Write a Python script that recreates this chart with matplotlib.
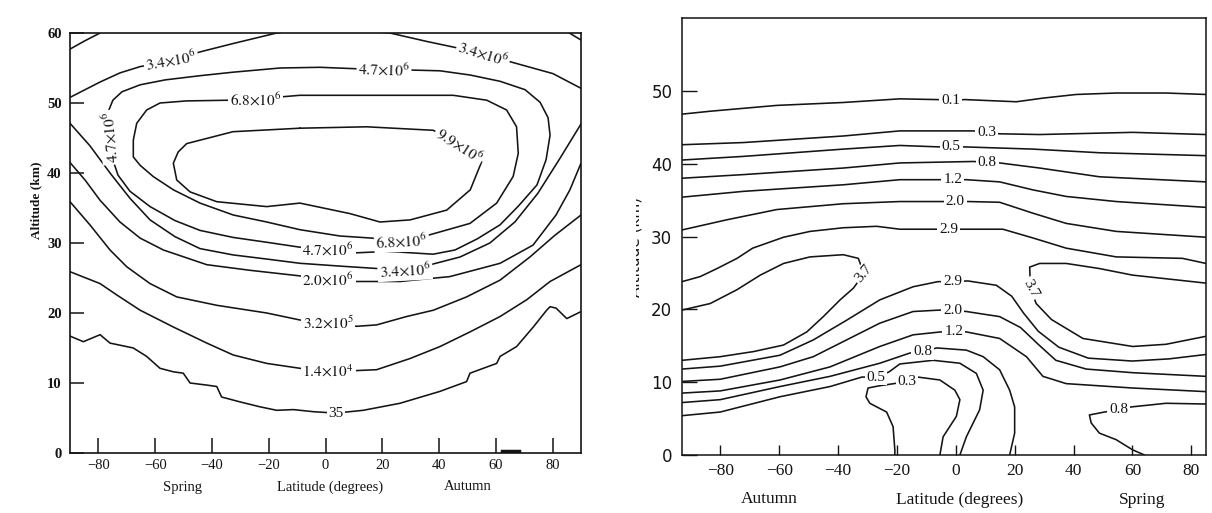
import matplotlib
matplotlib.use('Agg')
import matplotlib.pyplot as plt
from matplotlib.transforms import Bbox, TransformedBbox

plt.rcParams['font.family'] = ['Liberation Serif', 'DejaVu Serif']
plt.rcParams['mathtext.fontset'] = 'stix'

W, H = 1212, 513

# ---------------- left panel: contour lines (latitude, altitude km) ----------------
l_tl_lat = [-90, -84.7, -79.4]
l_tl_alt = [57.7, 58.9, 60.0]
l_tr_lat = [85.9, 90]
l_tr_alt = [60.0, 59.0]

l_34top_lat = [-90, -79.4, -72.4, -65.3, -54.4, -44.2, -32.5, -17.2, -9.0, 5.0, 22.7, 35.6, 44.9, 55.6, 65.0, 80.1, 90]
l_34top_alt = [50.8, 53.0, 54.3, 55.2, 56.0, 57.3, 58.5, 60.0, 60.4, 60.5, 60.0, 58.8, 58.0, 57.1, 55.9, 54.2, 52.1]

l_47_lat = [20.6, 30.8, 40.3, 50.9, 61.5, 70.3, 75.6, 78.4, 79.1, 77.7, 74.5, 68.0, 61.5, 53.5, 45.6, 37.9, 26.2,
            16.4, 11.1, 0.9, -9.0, -20.6, -32.6, -44.2, -53.0, -61.8, -68.9, -73.1, -74.9, -75.6, -76.6, -74.9,
            -71.7, -65.3, -56.5, -44.2, -32.6, -16.0, -1.9, 10.4, 20.6]
l_47_alt = [54.8, 54.7, 54.6, 54.0, 53.1, 51.9, 50.1, 47.9, 45.4, 41.9, 38.3, 35.3, 32.6, 30.6, 29.0, 28.4, 28.7,
            28.7, 28.6, 29.0, 29.4, 30.1, 30.8, 31.8, 33.2, 35.2, 37.4, 39.7, 41.9, 45.1, 48.7, 50.4,
            51.6, 52.6, 53.3, 53.9, 54.4, 55.0, 55.1, 54.9, 54.8]

l_68_lat = [-24.5, -33.6, -48.9, -58.3, -63.0, -66.5, -67.7, -67.7, -65.3, -60.7, -53.6, -44.2, -32.5, -20.7, -9.0,
            5.1, 16.3, 26.8, 36.1, 50.9, 60.3, 66.1, 67.9, 67.3, 63.8, 56.8, 45.0, 33.3, 14.5, -9.0, -14.9, -24.5]
l_68_alt = [50.4, 50.4, 50.3, 50.0, 49.0, 47.1, 44.7, 42.3, 41.1, 39.5, 37.6, 35.7, 34.0, 33.0, 31.9,
            31.0, 30.7, 30.2, 31.1, 32.8, 35.7, 39.5, 42.8, 46.6, 49.0, 50.4, 51.1, 51.1, 51.1, 51.1, 50.9, 50.4]

l_99_lat = [-9.0, -32.6, -48.9, -51.9, -53.6, -52.4, -47.7, -38.3, -20.7, -9.0, 8.6, 19.2, 29.8, 42.7, 51.0, 55.0,
            47.0, 38.0, 14.5, -9.0]
l_99_alt = [46.4, 45.9, 44.2, 43.0, 41.4, 39.0, 37.3, 35.9, 35.2, 35.7, 34.2, 33.0, 33.3, 34.7, 37.6, 41.6,
            43.9, 46.1, 46.6, 46.4]

l_34low_lat = [-90, -83.0, -75.9, -68.9, -61.8, -53.0, -44.2, -32.6, -20.6, -9.0, 5.1, 16.4, 28.0, 37.9, 47.4,
               57.9, 66.7, 74.8, 82.6, 90]
l_34low_alt = [47.1, 43.9, 40.0, 36.4, 33.3, 30.9, 29.2, 28.3, 27.7, 27.1, 26.7, 26.4, 26.1, 27.0, 28.0,
               30.0, 33.0, 37.1, 42.1, 47.0]

l_20_lat = [-90, -84.7, -79.4, -72.4, -65.3, -57.1, -41.8, -26.6, -9.0, 0.9, 11.0, 26.2, 43.8, 61.5, 73.1, 81.2,
            86.1, 90]
l_20_alt = [41.5, 39.0, 36.1, 33.0, 30.7, 29.0, 26.9, 26.1, 25.3, 24.7, 24.5, 24.5, 25.2, 27.1, 29.7, 34.0,
            37.6, 41.4]

l_32e5_lat = [-90, -83.0, -75.9, -70.0, -61.8, -52.4, -38.3, -20.7, -9.0, 0.9, 11.0, 18.0, 28.6, 38.0, 49.7,
              61.5, 72.0, 80.8, 90]
l_32e5_alt = [35.9, 32.6, 29.0, 26.6, 24.2, 22.3, 21.1, 20.0, 19.0, 18.6, 18.1, 18.3, 19.5, 20.4, 22.3,
              24.7, 28.0, 31.1, 34.0]

l_14e4_lat = [-90, -79.4, -73.6, -65.3, -53.6, -41.8, -32.5, -20.7, -9.0, 0.9, 18.0, 29.8, 40.3, 50.9, 61.5,
              70.9, 79.1, 90]
l_14e4_alt = [25.9, 24.2, 22.6, 20.4, 18.0, 15.7, 14.0, 12.8, 12.1, 11.6, 11.9, 13.5, 15.2, 17.3, 19.5,
              21.9, 24.5, 26.9]

l_35_lat = [-90, -85.3, -79.4, -75.9, -67.7, -63.0, -58.3, -53.6, -50.1, -47.7, -41.8, -38.3, -36.6, -30.1,
            -23.1, -17.2, -11.3, -4.3, 3.7, 13.3, 26.2, 40.3, 49.7, 50.9, 60.3, 61.5, 67.3, 73.2, 77.9, 79.1,
            81.2, 85.0, 90]
l_35_alt = [16.7, 15.9, 16.9, 15.7, 15.0, 13.8, 12.1, 11.6, 11.4, 10.0, 9.7, 9.5, 8.0, 7.3,
            6.6, 6.1, 6.2, 5.9, 5.7, 6.1, 7.1, 8.8, 10.2, 11.4, 12.8, 13.8, 15.2, 18.0, 20.4, 20.9,
            20.7, 19.2, 20.2]

l_frag_lat = [62, 68]
l_frag_alt = [0.25, 0.25]

left_lines = [(l_tl_lat, l_tl_alt), (l_tr_lat, l_tr_alt), (l_34top_lat, l_34top_alt), (l_47_lat, l_47_alt),
              (l_68_lat, l_68_alt), (l_99_lat, l_99_alt), (l_34low_lat, l_34low_alt), (l_20_lat, l_20_alt),
              (l_32e5_lat, l_32e5_alt), (l_14e4_lat, l_14e4_alt), (l_35_lat, l_35_alt)]

# label text, lat, alt, rotation
left_labels = [
    (r'$3.4{\times}10^6$', -54.4, 56.0, 10),
    (r'$6.8{\times}10^6$', -24.5, 50.4, 0),
    (r'$4.7{\times}10^6$', 20.6, 54.8, -2),
    (r'$3.4{\times}10^6$', 55.6, 57.1, -17),
    (r'$9.9{\times}10^6$', 47.0, 43.9, -33),
    (r'$4.7{\times}10^6$', -75.6, 45.1, 95),
    (r'$6.8{\times}10^6$', 26.8, 30.2, 3),
    (r'$4.7{\times}10^6$', 0.9, 29.0, 0),
    (r'$3.4{\times}10^6$', 28.0, 26.1, 3),
    (r'$2.0{\times}10^6$', 0.9, 24.7, 0),
    (r'$3.2{\times}10^5$', 0.9, 18.6, 0),
    (r'$1.4{\times}10^4$', 0.9, 11.6, 0),
    ('35', 3.7, 5.7, 0),
]

# ---------------- right panel: contour lines ----------------
r01_lat = [-93, -83.4, -60.8, -38.2, -19.0, -6.5, -1.7, 3.1, 20.6, 29.6, 40.9, 54.5, 71.4, 85]
r01_alt = [46.8, 47.2, 48.0, 48.4, 48.9, 48.8, 48.7, 48.8, 48.5, 49.0, 49.5, 49.7, 49.7, 49.5]
r03_lat = [-93, -72.1, -38.2, -19.0, 5.9, 10.4, 14.9, 28.5, 60.1, 85]
r03_alt = [42.6, 42.9, 43.8, 44.5, 44.5, 44.3, 44.1, 44.0, 44.3, 44.0]
r05_lat = [-93, -72.1, -38.2, -19.0, -5.4, -1.5, 3.1, 26.2, 48.8, 85]
r05_alt = [40.5, 41.0, 42.0, 42.5, 42.3, 42.3, 42.3, 42.0, 41.5, 41.1]
r08_lat = [-93, -72.1, -38.2, -19.0, 5.9, 10.7, 14.9, 28.5, 48.8, 85]
r08_alt = [38.0, 38.5, 39.4, 40.1, 40.3, 40.2, 40.1, 39.4, 38.2, 37.5]
r12_lat = [-93, -72.1, -38.2, -19.0, -5.4, -1.0, 3.6, 14.9, 26.2, 37.5, 54.5, 85]
r12_alt = [35.4, 36.2, 37.1, 37.8, 37.8, 37.8, 37.8, 37.5, 36.4, 35.5, 34.8, 34.0]
r20_lat = [-93, -77.7, -60.8, -38.2, -19.0, -4.8, -0.2, 4.2, 14.9, 26.2, 37.5, 54.5, 85]
r20_alt = [30.9, 32.3, 33.7, 34.5, 34.8, 34.8, 34.8, 34.8, 34.7, 33.2, 31.8, 30.7, 29.9]
r29u_lat = [-93, -86.8, -81.1, -74.3, -69.0, -58.5, -49.5, -38.2, -26.9, -19.0, -7.7, -2.4, 3.1, 16.0, 26.2,
            37.5, 54.5, 77.0, 85]
r29u_alt = [23.8, 24.5, 25.6, 27.0, 28.4, 29.9, 30.7, 31.2, 31.4, 31.0, 31.0, 31.0, 31.0, 31.0, 29.8,
            28.4, 27.2, 27.0, 26.3]
r37l_lat = [-93, -83.4, -74.3, -66.4, -58.5, -49.5, -38.2, -33.1, -31.2, -34.8, -39.3, -45.0, -50.6, -58.5,
            -68.7, -80.0, -93]
r37l_alt = [19.9, 20.8, 22.7, 24.7, 26.3, 27.2, 27.5, 27.0, 24.9, 22.9, 21.3, 19.0, 16.9, 15.1,
            14.2, 13.5, 13.0]
r37r_lat = [85, 60.0, 48.8, 37.5, 28.5, 25.1, 25.4, 27.3, 32.5, 43.2, 60.1, 71.4, 85]
r37r_alt = [23.6, 24.7, 25.6, 26.3, 26.3, 25.8, 22.8, 20.8, 18.6, 16.0, 14.9, 15.2, 16.3]
r29l_lat = [-93, -80.0, -59.7, -48.4, -37.1, -25.8, -14.5, -6.1, -1.0, 4.1, 13.8, 19.0, 23.0, 28.0, 35.0,
            45.0, 60.0, 72.5, 85]
r29l_alt = [11.8, 12.2, 13.7, 15.8, 18.5, 21.3, 23.1, 23.8, 23.8, 23.9, 23.3, 21.8, 19.5, 17.0, 14.8,
            13.3, 12.9, 13.2, 13.8]
r20l_lat = [-93, -80.0, -59.7, -48.4, -37.1, -25.8, -14.5, -5.4, -1.0, 3.6, 14.9, 22.0, 28.0, 34.0, 44.3,
            60.1, 85]
r20l_alt = [10.1, 10.4, 12.1, 13.5, 15.8, 18.1, 19.7, 19.9, 19.9, 19.7, 19.0, 17.5, 15.2, 13.0, 11.8,
            11.3, 10.8]
r12l_lat = [-93, -80.0, -59.7, -42.7, -25.8, -14.5, -5.1, -0.7, 3.6, 14.9, 24.0, 29.6, 37.5, 60.0, 85]
r12l_alt = [8.5, 8.8, 10.3, 12.1, 14.9, 16.5, 16.9, 16.9, 16.9, 16.0, 13.5, 10.8, 9.8, 9.2, 8.7]
r08l_lat = [-93, -80.0, -59.7, -42.7, -25.8, -15.6, -11.2, -6.5, 3.6, 9.3, 14.9, 18.3, 20.0, 20.0, 18.3]
r08l_alt = [7.2, 7.6, 9.4, 10.8, 12.6, 14.0, 14.2, 14.7, 14.4, 13.5, 11.7, 8.9, 6.6, 3.0, 0]
r05l_lat = [-93, -80.0, -59.7, -42.7, -31.9, -27.1, -22.7, -19.0, -7.7, 1.4, 7.0, 9.3, 8.1, 3.6, 1.4]
r05l_alt = [5.4, 5.9, 8.0, 9.4, 10.7, 10.7, 11.4, 12.5, 13.0, 12.6, 11.2, 8.9, 6.2, 2.5, 0]
r03l_lat = [-20.7, -20.7, -21.3, -23.5, -29.2, -30.5, -29.8, -26.0, -21.0, -16.6, -12.9, -5.4, -0.3, 1.4, 0.2,
            -4.3, -5.4]
r03l_alt = [0, 0.7, 3.9, 5.9, 7.1, 8.0, 9.2, 9.5, 9.8, 10.1, 10.7, 10.3, 8.9, 7.6, 5.3, 2.5, 0]
r08r_lat = [64.1, 60.1, 54.5, 48.8, 46.0, 45.4, 50.5, 55.3, 59.6, 71.4, 85]
r08r_alt = [0, 0.7, 2.1, 3.0, 4.4, 5.5, 5.9, 6.2, 6.6, 7.1, 7.0]

right_lines = [(r01_lat, r01_alt), (r03_lat, r03_alt), (r05_lat, r05_alt), (r08_lat, r08_alt),
               (r12_lat, r12_alt), (r20_lat, r20_alt), (r29u_lat, r29u_alt), (r37l_lat, r37l_alt),
               (r37r_lat, r37r_alt), (r29l_lat, r29l_alt), (r20l_lat, r20l_alt), (r12l_lat, r12l_alt),
               (r08l_lat, r08l_alt), (r05l_lat, r05l_alt), (r03l_lat, r03l_alt), (r08r_lat, r08r_alt)]

right_labels = [
    ('0.1', -1.7, 48.7, 0), ('0.3', 10.4, 44.3, 0), ('0.5', -1.5, 42.3, 0), ('0.8', 10.7, 40.2, 0),
    ('1.2', -1.0, 37.8, 0), ('2.0', -0.2, 34.8, 0), ('2.9', -2.4, 31.0, 0), ('3.7', -31.2, 24.9, 50),
    ('2.9', -1.0, 23.8, 0), ('3.7', 25.4, 22.8, -62), ('2.0', -1.0, 19.9, 0), ('1.2', -0.7, 16.9, 0),
    ('0.8', -11.2, 14.2, 0), ('0.5', -27.1, 10.7, 0), ('0.3', -16.6, 10.1, 0), ('0.8', 55.3, 6.2, 0),
]

lat_ticks = [-80, -60, -40, -20, 0, 20, 40, 60, 80]
lat_ticklabels = ['\u221280', '\u221260', '\u221240', '\u221220', '0', '20', '40', '60', '80']
left_alt_ticks = [0, 10, 20, 30, 40, 50, 60]
right_alt_ticks = [0, 10, 20, 30, 40, 50]

INK = '#141414'


def fig_box(x0, y0, x1, y1):
    return [x0 / W, 1 - y1 / H, (x1 - x0) / W, (y1 - y0) / H]


def draw_lines(ax, lines):
    for lat, alt in lines:
        ax.plot(lat, alt, color=INK, lw=1.15, solid_joinstyle='round', solid_capstyle='round')


def draw_labels(ax, labels, size):
    for txt, lat, alt, rot in labels:
        ax.text(lat, alt, txt, fontsize=size, rotation=rot, rotation_mode='anchor', ha='center', va='center',
                color=INK, zorder=4, bbox=dict(boxstyle='square,pad=0.12', fc='white', ec='none'))


fig = plt.figure(figsize=(W / 100, H / 100), dpi=100)
fig.patch.set_facecolor('white')

# ---- left panel ----
ax1 = fig.add_axes(fig_box(70, 33, 581, 453))
draw_lines(ax1, left_lines)
ax1.plot(l_frag_lat, l_frag_alt, color=INK, lw=2.5)
draw_labels(ax1, left_labels, 11)
ax1.set_xlim(-90, 90)
ax1.set_ylim(0, 60)
ax1.set_xticks(lat_ticks)
ax1.set_xticklabels(lat_ticklabels, fontsize=10.5)
ax1.set_yticks(left_alt_ticks)
ax1.set_yticklabels([str(v) for v in left_alt_ticks], fontsize=10.5, fontweight='bold')
ax1.tick_params(axis='x', direction='in', length=11, width=1.1, pad=4, colors=INK)
ax1.tick_params(axis='y', direction='in', length=10, width=1.1, pad=6, colors=INK)
for s in ax1.spines.values():
    s.set_linewidth(1.2)
    s.set_color(INK)

fig.text(182 / W, 1 - 487 / H, 'Spring', fontsize=10.5, ha='center', va='center', color=INK)
fig.text(330 / W, 1 - 487 / H, 'Latitude (degrees)', fontsize=10.5, ha='center', va='center', color=INK)
fig.text(468 / W, 1 - 487 / H, 'Autumn', fontsize=10.5, ha='center', va='center', color=INK)
fig.text(36 / W, 1 - 200 / H, 'Altitude (km)', fontsize=9.5, fontweight='bold', rotation=90,
         ha='center', va='center', color=INK)

# ---- right panel ----
ax2 = fig.add_axes(fig_box(682, 18, 1206, 455))
draw_lines(ax2, right_lines)
draw_labels(ax2, right_labels, 11)
ax2.set_xlim(-93, 85)
ax2.set_ylim(0, 60)
ax2.set_xticks(lat_ticks)
ax2.set_xticklabels(lat_ticklabels, fontsize=12.5)
ax2.set_yticks(right_alt_ticks)
ax2.set_yticklabels([str(v) for v in right_alt_ticks], fontsize=12, family='DejaVu Sans')
ax2.tick_params(axis='x', direction='in', length=7, width=1.0, pad=6, colors=INK)
ax2.tick_params(axis='y', direction='in', length=11, width=1.0, pad=7, colors=INK)
for s in ax2.spines.values():
    s.set_linewidth(1.1)
    s.set_color(INK)

fig.text(769 / W, 1 - 499 / H, 'Autumn', fontsize=12.5, ha='center', va='center', color=INK)
fig.text(960 / W, 1 - 500 / H, 'Latitude (degrees)', fontsize=12.5, ha='center', va='center', color=INK)
fig.text(1142 / W, 1 - 500 / H, 'Spring', fontsize=12.5, ha='center', va='center', color=INK)

# right y label is cut off in the source scan: show only a sliver of it
ylab = fig.text(635 / W, 1 - 247 / H, 'Altitude (km)', fontsize=11, rotation=90, ha='center', va='center',
                color=INK, family='DejaVu Sans')
ylab.set_clip_box(TransformedBbox(Bbox([[636 / W, 0], [1, 1]]), fig.transFigure))
ylab.set_clip_on(True)

fig.savefig('out.png', dpi=100, facecolor='white')
